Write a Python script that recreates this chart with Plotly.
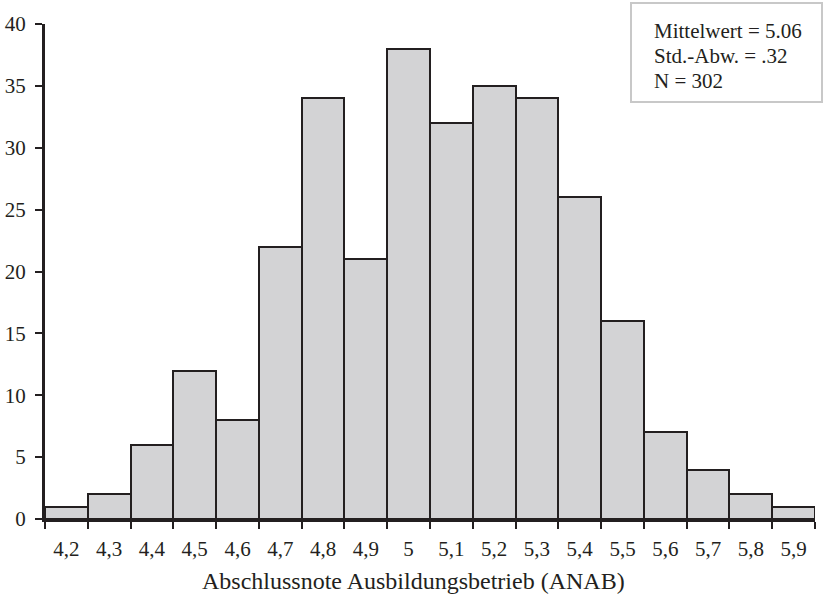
import plotly.graph_objects as go

categories = ["4,2", "4,3", "4,4", "4,5", "4,6", "4,7", "4,8", "4,9", "5", "5,1",
              "5,2", "5,3", "5,4", "5,5", "5,6", "5,7", "5,8", "5,9"]
counts = [1, 2, 6, 12, 8, 22, 34, 21, 38, 32, 35, 34, 26, 16, 7, 4, 2, 1]
y_ticks = [0, 5, 10, 15, 20, 25, 30, 35, 40]
stats_lines = ["Mittelwert = 5.06", "Std.-Abw. = .32", "N = 302"]
x_title = "Abschlussnote Ausbildungsbetrieb (ANAB)"

idx = list(range(len(categories)))
edges = [i - 0.5 for i in range(len(categories) + 1)]

dark = "#231f20"
font = "Liberation Serif"

fig = go.Figure()
fig.add_trace(go.Bar(
    x=idx, y=counts, width=1,
    marker=dict(color="#d3d3d5", line=dict(color=dark, width=2)),
    showlegend=False, hoverinfo="skip",
))

fig.update_layout(
    width=825, height=600,
    margin=dict(l=45, r=10, t=24, b=81),
    paper_bgcolor="white", plot_bgcolor="white",
    font=dict(family=font, color=dark, size=21),
    bargap=0,
    xaxis=dict(
        range=[-0.5, len(categories) - 0.5],
        tickmode="array", tickvals=idx, ticktext=categories,
        ticks="outside", ticklen=0,
        minor=dict(tickmode="array", tickvals=edges, ticks="outside",
                   ticklen=7, tickwidth=2, tickcolor=dark),
        showline=True, linecolor=dark, linewidth=3,
        showgrid=False, zeroline=False,
        tickfont=dict(size=21),
        ticklabelstandoff=9,
        automargin=False,
    ),
    yaxis=dict(
        range=[0, 40],
        tickmode="array", tickvals=y_ticks,
        ticks="outside", ticklen=7, tickwidth=2, tickcolor=dark,
        showline=True, linecolor=dark, linewidth=3,
        showgrid=False, zeroline=False,
        tickfont=dict(size=21),
        ticklabelstandoff=5,
        automargin=False,
    ),
)

# paper coords relative to plot area: x 45..815, y 24..519 on page
W, H = 770, 495
def px(x):
    return (x - 45) / W
def py(y):
    return (519 - y) / H

# x-axis title
fig.add_annotation(text=x_title, xref="paper", yref="paper",
                   x=px(413), y=py(581), xanchor="center", yanchor="middle",
                   showarrow=False, font=dict(size=24, family=font, color=dark))

# stats box
fig.add_shape(type="rect", xref="paper", yref="paper",
              x0=px(631), x1=px(822), y0=py(102), y1=py(3),
              line=dict(color="#c8c8c8", width=2), fillcolor="white")
for line, yc in zip(stats_lines, [31, 56, 81]):
    fig.add_annotation(text=line, xref="paper", yref="paper",
                       x=px(652), y=py(yc), xanchor="left", yanchor="middle",
                       showarrow=False, font=dict(size=21, family=font, color=dark))

fig.write_html("out.html", config={"displayModeBar": False},
               post_script="document.body.style.margin='0px';")
